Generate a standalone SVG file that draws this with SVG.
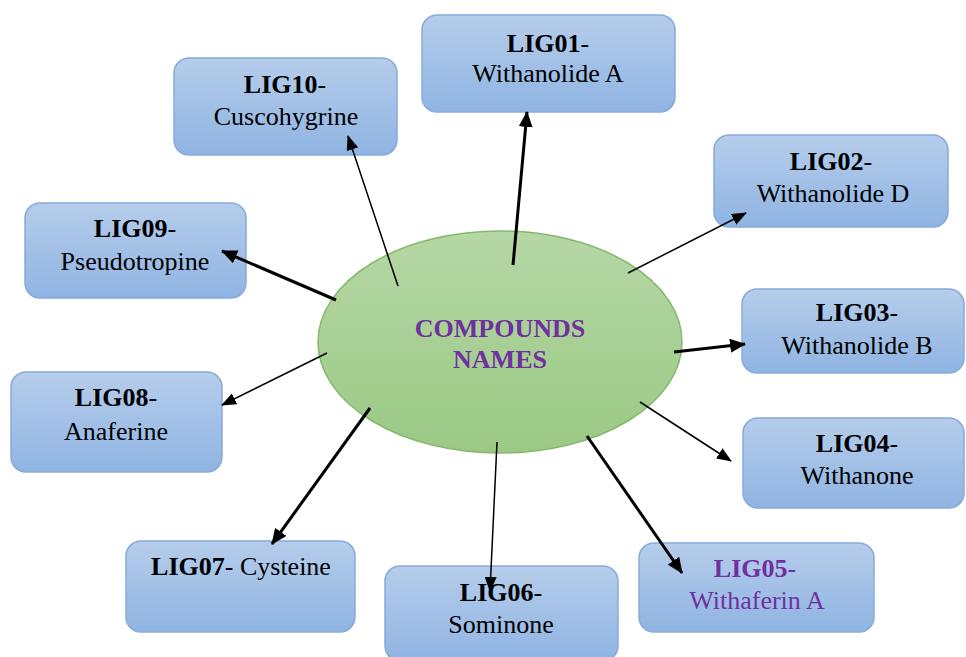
<svg xmlns="http://www.w3.org/2000/svg" width="966" height="657" viewBox="0 0 966 657">
<defs>
<linearGradient id="gb" x1="0" y1="0" x2="0" y2="1">
<stop offset="0" stop-color="#b6cdeb"/>
<stop offset="1" stop-color="#8fb4e2"/>
</linearGradient>
<linearGradient id="gg" x1="0" y1="0" x2="0" y2="1">
<stop offset="0" stop-color="#b5d7a5"/>
<stop offset="1" stop-color="#9bc985"/>
</linearGradient>
<marker id="ah" markerUnits="userSpaceOnUse" markerWidth="16" markerHeight="14" refX="15" refY="7" orient="auto">
<path d="M0,0 L16,7 L0,14 z" fill="#000"/>
</marker>
<marker id="ahs" markerUnits="userSpaceOnUse" markerWidth="15" markerHeight="12" refX="14" refY="6" orient="auto">
<path d="M0,0 L15,6 L0,12 z" fill="#000"/>
</marker>
<style>
.box{fill:url(#gb);stroke:#86abdb;stroke-width:1.5}
.t{font-family:"Liberation Serif","Times New Roman",serif;font-size:26px;fill:#000;text-anchor:middle}
.b{font-weight:bold}
.p{fill:#7030a0}
.thick{stroke:#000;stroke-width:3;fill:none;marker-end:url(#ah)}
.thin{stroke:#000;stroke-width:1.5;fill:none;marker-end:url(#ahs)}
</style>
</defs>
<rect width="966" height="657" fill="#fff"/>
<g id="center">
<ellipse cx="500" cy="342" rx="182" ry="111" fill="url(#gg)" stroke="#84b96d" stroke-width="1.5"/>
<text class="t b p" x="500" y="337" font-size="26.5">COMPOUNDS</text>
<text class="t b p" x="500" y="368" font-size="26.5">NAMES</text>
</g>
<g id="lig01">
<rect class="box" x="422" y="15" width="253" height="97" rx="15"/>
<text class="t" x="548" y="52"><tspan class="b">LIG01</tspan>-</text>
<text class="t" x="548" y="82">Withanolide A</text>
</g>
<g id="lig02">
<rect class="box" x="714" y="135" width="234" height="92" rx="15"/>
<text class="t" x="831" y="170"><tspan class="b">LIG02</tspan>-</text>
<text class="t" x="833" y="202">Withanolide D</text>
</g>
<g id="lig03">
<rect class="box" x="742" y="289" width="222" height="84" rx="15"/>
<text class="t" x="857" y="321"><tspan class="b">LIG03</tspan>-</text>
<text class="t" x="857" y="354">Withanolide B</text>
</g>
<g id="lig04">
<rect class="box" x="743" y="418" width="221" height="90" rx="15"/>
<text class="t" x="857" y="452"><tspan class="b">LIG04</tspan>-</text>
<text class="t" x="857" y="484">Withanone</text>
</g>
<g id="lig05">
<rect class="box" x="639" y="543" width="235" height="89" rx="15"/>
<text class="t p" x="755" y="577"><tspan class="b">LIG05</tspan>-</text>
<text class="t p" x="757" y="609">Withaferin A</text>
</g>
<g id="lig06">
<rect class="box" x="385" y="566" width="233" height="95" rx="15"/>
<text class="t" x="501" y="601"><tspan class="b">LIG06</tspan>-</text>
<text class="t" x="501" y="633">Sominone</text>
</g>
<g id="lig07">
<rect class="box" x="126" y="541" width="229" height="91" rx="15"/>
<text class="t" x="241" y="575"><tspan class="b">LIG07</tspan>- Cysteine</text>
</g>
<g id="lig08">
<rect class="box" x="11" y="372" width="211" height="100" rx="15"/>
<text class="t" x="116" y="406"><tspan class="b">LIG08</tspan>-</text>
<text class="t" x="116" y="440">Anaferine</text>
</g>
<g id="lig09">
<rect class="box" x="25" y="203" width="221" height="95" rx="15"/>
<text class="t" x="135" y="237"><tspan class="b">LIG09</tspan>-</text>
<text class="t" x="135" y="270">Pseudotropine</text>
</g>
<g id="lig10">
<rect class="box" x="174" y="58" width="223" height="97" rx="15"/>
<text class="t" x="285" y="93"><tspan class="b">LIG10</tspan>-</text>
<text class="t" x="286" y="125">Cuscohygrine</text>
</g>
<g id="connectors">
<line class="thick" x1="513" y1="265" x2="527" y2="112"/>
<line class="thin" x1="628" y1="273" x2="746" y2="213"/>
<line class="thick" x1="674" y1="352" x2="745" y2="344"/>
<line class="thin" x1="640" y1="402" x2="731" y2="461"/>
<line class="thick" x1="587" y1="436" x2="682" y2="573"/>
<line class="thin" x1="497" y1="442" x2="490" y2="591"/>
<line class="thick" x1="370" y1="408" x2="272" y2="544"/>
<line class="thin" x1="327" y1="353" x2="222" y2="405"/>
<line class="thick" x1="336" y1="300" x2="222" y2="251"/>
<line class="thin" x1="398" y1="286" x2="348" y2="136"/>
</g>
</svg>
